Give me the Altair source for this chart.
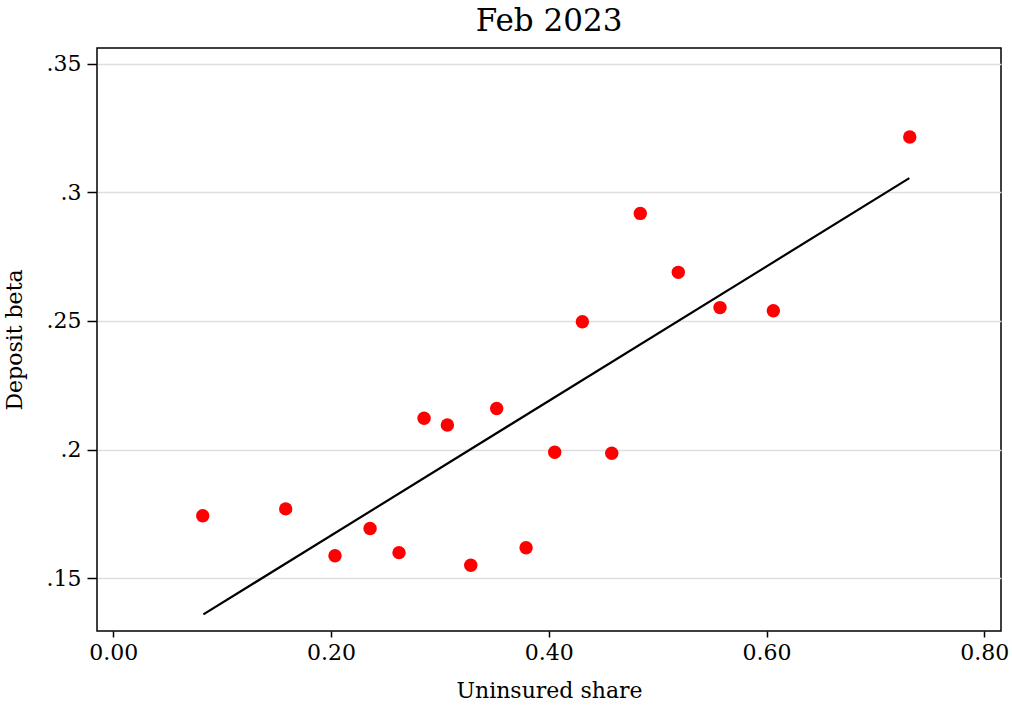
import altair as alt
import pandas as pd

# Binned averages: uninsured deposit share vs. deposit beta
uninsured_share = [0.0821, 0.1583, 0.2036, 0.2358, 0.2624, 0.2854, 0.3068, 0.3283, 0.3521,
                   0.3791, 0.4054, 0.4308, 0.4578, 0.4840, 0.5189, 0.5572, 0.6062, 0.7315]
deposit_beta = [0.1743, 0.1770, 0.1588, 0.1694, 0.1600, 0.2122, 0.2096, 0.1551, 0.2160,
                0.1619, 0.1990, 0.2497, 0.1986, 0.2918, 0.2689, 0.2552, 0.2540, 0.3215]

# Fitted line endpoints
fit_x = [0.0827, 0.7311]
fit_y = [0.1360, 0.3055]

x_ticks = [0.0, 0.2, 0.4, 0.6, 0.8]
y_ticks = [0.15, 0.2, 0.25, 0.3, 0.35]

FONT = "DejaVu Serif"

points = pd.DataFrame({"share": uninsured_share, "beta": deposit_beta})
fit = pd.DataFrame({"share": fit_x, "beta": fit_y})

x_scale = alt.Scale(domain=[-0.015, 0.8153], nice=False, zero=False)
y_scale = alt.Scale(domain=[0.12955, 0.35607], nice=False, zero=False)

x_axis = alt.Axis(
    title="Uninsured share", values=x_ticks, format=".2f", grid=False,
    tickSize=6, tickColor="black", tickWidth=1.5, labelPadding=5,
    labelFontSize=22, titleFontSize=22, titlePadding=17,
    domain=False,
)
y_axis = alt.Axis(
    title="Deposit beta", values=y_ticks,
    labelExpr="substring(format(datum.value, '.2~f'), 1)",
    grid=True, gridColor="#dedede", gridWidth=1.5,
    tickSize=10, tickColor="black", tickWidth=1.5, labelPadding=6,
    labelFontSize=22, titleFontSize=22, titlePadding=20,
    domain=False,
)

scatter = alt.Chart(points).mark_circle(color="#ff0000", opacity=1, size=180).encode(
    x=alt.X("share:Q", scale=x_scale, axis=x_axis),
    y=alt.Y("beta:Q", scale=y_scale, axis=y_axis),
)

line = alt.Chart(fit).mark_line(color="black", strokeWidth=2.2).encode(
    x=alt.X("share:Q", scale=x_scale),
    y=alt.Y("beta:Q", scale=y_scale),
)

chart = (
    alt.layer(line, scatter)
    .properties(
        width=904,
        height=583,
        title=alt.TitleParams("Feb 2023", fontSize=31, font=FONT, fontWeight="normal",
                              anchor="middle", offset=10, color="black"),
        autosize=alt.AutoSizeParams(type="none"),
        padding={"left": 97, "top": 48, "right": 11, "bottom": 75},
        background="white",
    )
    .configure_view(stroke="black", strokeWidth=1.5)
    .configure_axis(labelFont=FONT, titleFont=FONT, labelColor="black", titleColor="black",
                    titleFontWeight="normal")
)

chart.save("out.html", embed_options={"renderer": "svg", "actions": False})
